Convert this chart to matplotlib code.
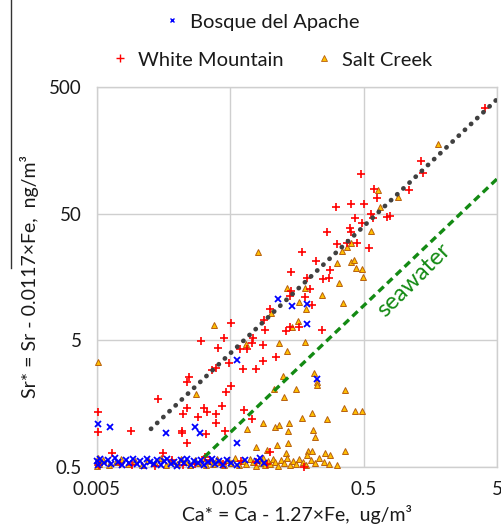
import matplotlib
matplotlib.use("Agg")
import matplotlib.pyplot as plt
from matplotlib.lines import Line2D
from matplotlib.ticker import NullLocator

plt.rcParams['font.family'] = ['Lato', 'DejaVu Sans']

# ---- data: Ca* (ug/m3) and Sr* (ng/m3) per site ----
bosque_ca = [0.1134, 0.146, 0.189, 0.189, 0.0565, 0.222, 0.0051, 0.0063, 0.0164,
             0.0272, 0.0296, 0.0565,
             0.0050, 0.0051, 0.0053, 0.0056, 0.0060, 0.0064, 0.0068, 0.0072, 0.0077,
             0.0082, 0.0087, 0.0093, 0.0099, 0.0105, 0.0112, 0.0118, 0.0125, 0.0133,
             0.0141, 0.0150, 0.0159, 0.0168, 0.0178, 0.0189, 0.0200, 0.0212, 0.0225,
             0.0238, 0.0252, 0.0268, 0.0284, 0.0300, 0.0320, 0.0340, 0.0362, 0.0385,
             0.0410, 0.0440, 0.0470, 0.0510, 0.0560, 0.0640, 0.0790, 0.0830, 0.0900]
bosque_sr = [10.6, 9.33, 9.68, 6.72, 3.50, 2.46, 1.09, 1.03, 0.93,
             1.04, 0.92, 0.78,
             0.56, 0.52, 0.58, 0.54, 0.57, 0.53, 0.59, 0.55, 0.52,
             0.57, 0.54, 0.58, 0.53, 0.56, 0.51, 0.58, 0.55, 0.53,
             0.57, 0.52, 0.56, 0.58, 0.53, 0.55, 0.51, 0.57, 0.54,
             0.58, 0.52, 0.56, 0.54, 0.57, 0.52, 0.55, 0.58, 0.53,
             0.56, 0.52, 0.57, 0.54, 0.52, 0.57, 0.56, 0.59, 0.54]

white_ca = [4.07, 1.35, 1.39, 0.475, 0.598, 0.627, 1.10, 0.309, 0.402, 0.506,
            0.431, 0.568, 0.591, 0.745, 0.789, 0.489, 0.395, 0.400, 0.264, 0.318,
            0.373, 0.449, 0.546, 0.172, 0.220, 0.280, 0.143, 0.187, 0.247, 0.277,
            0.198, 0.180, 0.141, 0.204, 0.0993, 0.0895, 0.091, 0.130, 0.140, 0.164,
            0.245, 0.0504, 0.0451, 0.0301, 0.0402, 0.0745, 0.0671, 0.0875, 0.0592, 0.0489,
            0.0875, 0.110, 0.0620, 0.0783, 0.0389, 0.0366, 0.0246, 0.0235, 0.0504, 0.0462,
            0.0143, 0.0238, 0.0431, 0.0318, 0.0336, 0.0222, 0.0288, 0.0391, 0.0389, 0.0634,
            0.0731, 0.0051, 0.0051, 0.0090, 0.0216, 0.0218, 0.0235, 0.0327, 0.0456, 0.0993,
            0.0065, 0.0724, 0.1435,
            0.0052, 0.0075, 0.0091, 0.0136, 0.0157, 0.0182, 0.0222, 0.0272, 0.0323,
            0.0352, 0.0443, 0.078, 0.094, 0.177, 0.0600]
white_sr = [339, 130, 105, 102, 77.8, 66.7, 76.7, 56.4, 59.8, 59.8,
            46.4, 49.3, 45.9, 47.0, 47.9, 42.4, 38.3, 36.0, 35.8, 28.9,
            29.5, 29.5, 26.6, 24.8, 21.2, 17.9, 17.2, 15.4, 15.2, 15.6,
            12.7, 11.0, 11.2, 9.55, 8.79, 7.23, 6.03, 5.96, 6.40, 6.34,
            6.03, 6.81, 5.21, 4.91, 4.32, 5.19, 4.27, 4.59, 4.27, 3.29,
            3.45, 3.67, 2.95, 2.98, 3.04, 2.92, 2.55, 2.36, 2.19, 1.96,
            1.73, 1.45, 1.51, 1.45, 1.37, 1.30, 1.25, 1.30, 1.11, 1.41,
            1.20, 1.37, 0.94, 0.97, 0.97, 0.92, 0.78, 0.91, 0.96, 0.66,
            0.65, 4.73, 12.3,
            0.52, 0.53, 0.52, 0.51, 0.64, 0.57, 0.52, 0.53, 0.60,
            0.57, 0.53, 0.55, 0.53, 0.50, 0.56]

salt_ca = [1.79, 0.644, 0.901, 0.664, 0.568, 0.400, 0.373, 0.346, 0.314, 0.400,
           0.426, 0.436, 0.484, 0.492, 0.0803, 0.327, 0.1325, 0.180, 0.164, 0.184,
           0.243, 0.352, 0.101, 0.162, 0.1445, 0.0380, 0.0656, 0.180, 0.1167, 0.1325,
           0.1236, 0.107, 0.127, 0.1556, 0.212, 0.225, 0.222, 0.3625, 0.358, 0.433,
           0.489, 0.0277, 0.0051, 0.204, 0.264, 0.173, 0.138, 0.0885, 0.108, 0.116,
           0.0664, 0.136, 0.210, 0.216, 0.136, 0.1127, 0.0948, 0.0776, 0.361, 0.192,
           0.204, 0.187, 0.130, 0.256, 0.280, 0.314,
           0.0050, 0.0050, 0.0051, 0.0052, 0.0055, 0.0061, 0.0069, 0.0076, 0.0085, 0.0096,
           0.0108, 0.0121, 0.0135, 0.0150, 0.0165, 0.0180, 0.0198, 0.0215, 0.0232, 0.0250,
           0.0270, 0.0292, 0.0310, 0.0330, 0.0350, 0.0372, 0.0395, 0.0420, 0.0450, 0.0480,
           0.0505, 0.0540, 0.0580, 0.0620, 0.0660, 0.0700, 0.0740, 0.0780, 0.0815, 0.0850,
           0.0880, 0.0915, 0.0950, 0.0990, 0.1040, 0.1090, 0.1140, 0.1200, 0.1260, 0.1330,
           0.1400, 0.1480, 0.1560, 0.1650, 0.1750, 0.1860, 0.2000, 0.2150, 0.2300, 0.2500,
           0.2750]
salt_sr = [179, 76.4, 67.9, 56.6, 36.5, 29.5, 27.4, 25.4, 20.5, 20.9,
           21.4, 18.5, 18.2, 15.9, 24.9, 14.1, 12.9, 12.9, 10.1, 8.79,
           11.4, 9.80, 8.17, 7.14, 6.34, 6.60, 4.68, 4.88, 4.78, 4.09,
           2.63, 2.05, 1.79, 2.05, 2.77, 2.36, 2.22, 2.02, 1.47, 1.38,
           1.38, 1.88, 3.35, 1.33, 1.20, 1.21, 1.11, 1.11, 1.04, 1.07,
           0.99, 0.96, 0.98, 0.87, 0.78, 0.74, 0.68, 0.72, 0.67, 0.67,
           0.67, 0.62, 0.64, 0.65, 0.62, 0.52,
           0.51, 0.55, 0.59, 0.53, 0.57, 0.52, 0.55, 0.58, 0.53, 0.56,
           0.52, 0.57, 0.54, 0.59, 0.52, 0.56, 0.53, 0.58, 0.55, 0.52,
           0.57, 0.54, 0.59, 0.52, 0.56, 0.53, 0.58, 0.55, 0.52, 0.57,
           0.54, 0.59, 0.52, 0.56, 0.53, 0.58, 0.55, 0.51, 0.57, 0.54,
           0.59, 0.52, 0.56, 0.53, 0.58, 0.55, 0.51, 0.57, 0.54, 0.59,
           0.52, 0.56, 0.53, 0.58, 0.55, 0.52, 0.57, 0.54, 0.59, 0.55,
           0.53]

# fitted Sr*/Ca* relation and seawater ratio line
trend_ca = [0.0127, 5.0]
trend_sr = [1.0, 400.0]
seawater_ca = [0.032, 5.0]
seawater_sr = [0.60, 94.0]

xticks = [0.005, 0.05, 0.5, 5]
xtick_labels = ['0.005', '0.05', '0.5', '5']
yticks = [0.5, 5, 50, 500]
ytick_labels = ['0.5', '5', '50', '500']

# ---- styles ----
red = '#FF0000'
blue = '#0000FF'
tri_face = '#FFC000'
tri_edge = '#B8600F'
text_col = '#1A1A1A'
green = '#138A13'

fig = plt.figure(figsize=(5.02, 5.30), dpi=100)
ax = fig.add_axes([97 / 502, 63 / 530, 400 / 502, 380 / 530])
ax.set_xscale('log')
ax.set_yscale('log')

salt_kw = dict(ls='none', marker='^', ms=4.8, mfc=tri_face, mec=tri_edge, mew=0.7)
white_kw = dict(ls='none', marker='+', ms=6.3, color=red, mew=1.2)
bosque_kw = dict(ls='none', marker='x', ms=4.0, color=blue, mew=1.3)

ax.plot(salt_ca, salt_sr, clip_on=False, zorder=3, **salt_kw)
ax.plot(white_ca, white_sr, clip_on=False, zorder=3, **white_kw)
ax.plot(bosque_ca, bosque_sr, clip_on=False, zorder=3, **bosque_kw)

ax.plot(trend_ca, trend_sr, color='#404040', lw=3.4, ls=(0, (0.05, 1.75)),
        dash_capstyle='round', zorder=4)
ax.plot(seawater_ca, seawater_sr, color=green, lw=2.4, ls=(0, (2.2, 1.4)),
        zorder=4)
ax.text(1.2, 15.0, 'seawater', color=green, fontsize=17, rotation=45,
        ha='center', va='center', rotation_mode='anchor', zorder=5)

ax.set_xlim(0.005, 5)
ax.set_ylim(0.5, 500)
ax.set_xticks(xticks)
ax.set_xticklabels(xtick_labels)
ax.set_yticks(yticks)
ax.set_yticklabels(ytick_labels)
ax.xaxis.set_minor_locator(NullLocator())
ax.yaxis.set_minor_locator(NullLocator())
ax.tick_params(length=0, labelsize=13.5, labelcolor=text_col)
ax.tick_params(axis='x', pad=10)
ax.tick_params(axis='y', pad=11)
ax.grid(True, color='#CFCFCF', lw=1.0, zorder=0)
ax.set_axisbelow(True)
for s in ax.spines.values():
    s.set_color('#CFCFCF')
    s.set_linewidth(1.0)

ax.set_xlabel('Ca* = Ca - 1.27×Fe,  ug/m³', fontsize=14, color=text_col, labelpad=5)
ax.set_ylabel('Sr* = Sr - 0.0117×Fe,  ng/m³', fontsize=14, color=text_col, labelpad=7)

# legend: one entry on the first row, two on the second
h_bosque = Line2D([], [], ls='none', marker='x', ms=3.5, color=blue, mew=1.0)
h_white = Line2D([], [], ls='none', marker='+', ms=5.5, color=red, mew=1.0)
h_salt = Line2D([], [], ls='none', marker='^', ms=4, mfc=tri_face, mec=tri_edge, mew=0.6)
leg1 = fig.legend([h_bosque], ['Bosque del Apache'], loc='center',
                  bbox_to_anchor=(262 / 502, 1 - 22 / 530), frameon=False,
                  fontsize=14.5, handlelength=0.8, handletextpad=0.5, borderpad=0)
leg2 = fig.legend([h_white, h_salt], ['White Mountain', 'Salt Creek'], loc='center',
                  ncol=2, bbox_to_anchor=(272 / 502, 1 - 60 / 530), frameon=False,
                  fontsize=14.5, handlelength=0.8, handletextpad=0.5, columnspacing=1.6,
                  borderpad=0)
for lg in (leg1, leg2):
    for t in lg.get_texts():
        t.set_color(text_col)

# thin vertical rule at the left edge
fig.add_artist(Line2D([11 / 502, 11 / 502], [1.0, 1 - 268 / 530],
                      transform=fig.transFigure, color='#333333', lw=1.0))

fig.savefig('out.png', dpi=100)
